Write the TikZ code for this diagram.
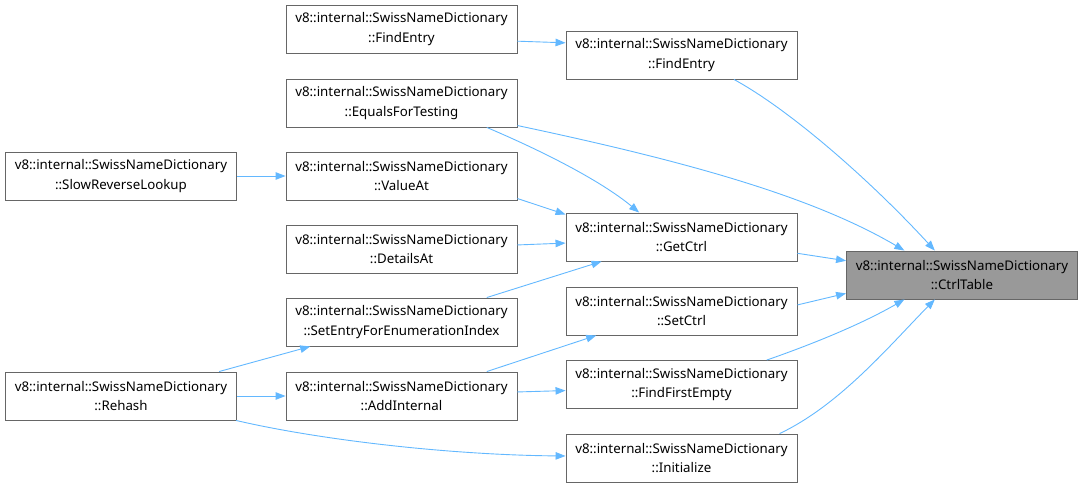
\documentclass[tikz,border=0pt]{standalone}
\usepackage{fontspec}
\setmainfont{Noto Sans}
\usetikzlibrary{arrows.meta}
\definecolor{edgeblue}{RGB}{99,184,255}
\definecolor{boxline}{RGB}{102,102,102}
\definecolor{boxfill}{RGB}{153,153,153}
\tikzset{
  fn/.style={draw=boxline,fill=white,line width=0.9pt,minimum width=231pt,minimum height=48pt,
    inner sep=0pt,align=center,font=\fontsize{13.3}{19.5}\selectfont},
  call/.style={edgeblue,line width=0.9pt,-{Triangle[length=10pt,width=7.5pt]}}
}
\newcommand{\snd}{v8::internal::SwissNameDictionary\\}

\begin{document}
\begin{tikzpicture}[x=1pt,y=-1pt]
  \useasboundingbox (0,0) rectangle (1084,487);
  \node[fn,fill=boxfill] (ctrl) at (962,275) {\snd::CtrlTable};
  \node[fn] (find) at (681.5,55) {\snd::FindEntry};
  \node[fn] (getctrl) at (681.5,237) {\snd::GetCtrl};
  \node[fn] (setctrl) at (681.5,311) {\snd::SetCtrl};
  \node[fn] (firstempty) at (681.5,384.5) {\snd::FindFirstEmpty};
  \node[fn] (init) at (681.5,458) {\snd::Initialize};
  \node[fn] (findb) at (401.5,29) {\snd::FindEntry};
  \node[fn] (equals) at (401.5,103) {\snd::EqualsForTesting};
  \node[fn] (valueat) at (401.5,176) {\snd::ValueAt};
  \node[fn] (detailsat) at (401.5,249) {\snd::DetailsAt};
  \node[fn] (setentry) at (401.5,322) {\snd::SetEntryForEnumerationIndex};
  \node[fn] (addint) at (401.5,396) {\snd::AddInternal};
  \node[fn] (slowrev) at (121,176) {\snd::SlowReverseLookup};
  \node[fn] (rehash) at (121,396) {\snd::Rehash};

  \draw[call] (findb.-6) -- (find.174.6);
  \draw[call] (find.-25) .. controls (790,110) and (870,180) .. (ctrl.138.4);
  \draw[call] (equals.-11) .. controls (680,160) and (810,195) .. (ctrl.157.2);
  \draw[call] (equals.-16) .. controls (540,150) and (600,180) .. (getctrl.150);
  \draw[call] (valueat.-11.5) -- (getctrl.169.2);
  \draw[call] (detailsat.2) -- (getctrl.-177.5);
  \draw[call] (setentry.16.2) -- (getctrl.-163.5);
  \draw[call] (getctrl.-8.9) -- (ctrl.173.6);
  \draw[call] (setctrl.3) -- (ctrl.-171.7);
  \draw[call] (firstempty.16.3) .. controls (810,345) and (860,325) .. (ctrl.-157.2);
  \draw[call] (init.14.7) .. controls (840,405) and (890,345) .. (ctrl.-138.4);
  \draw[call] (slowrev) -- (valueat);
  \draw[call] (rehash.14.2) -- (setentry.-165.5);
  \draw[call] (rehash) -- (addint);
  \draw[call] (rehash.-12.9) .. controls (320,440) and (450,455) .. (init.179);
  \draw[call] (addint.16.2) -- (setctrl.-164.1);
  \draw[call] (addint.2) -- (firstempty.-177.3);
\end{tikzpicture}
\end{document}
